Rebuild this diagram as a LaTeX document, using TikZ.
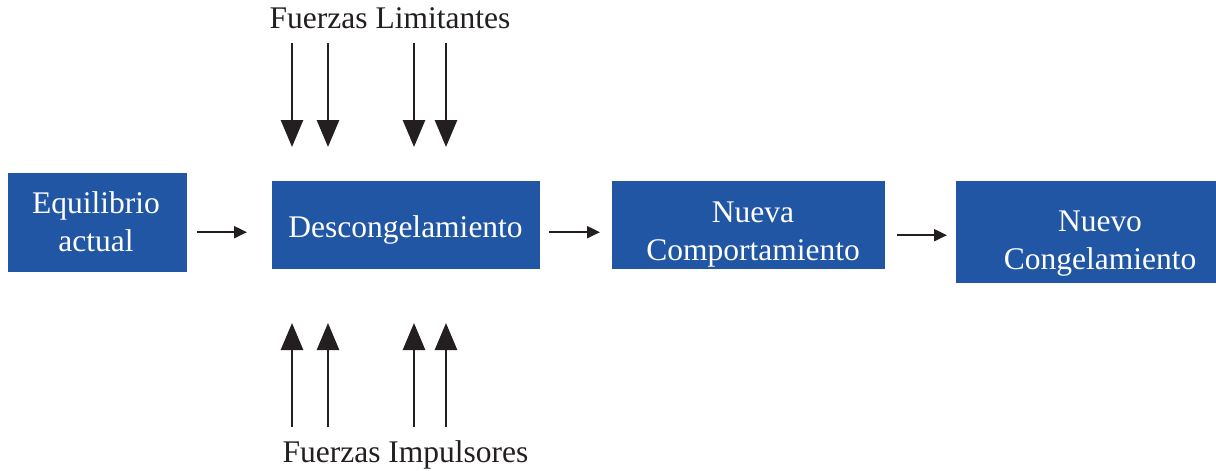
\documentclass[tikz,border=0pt]{standalone}
\usepackage{fontspec}
\setmainfont{Liberation Serif}
\usetikzlibrary{arrows.meta}
\definecolor{boxblue}{HTML}{2156A5}
\definecolor{ink}{HTML}{231F20}
\begin{document}
\begin{tikzpicture}[x=1pt,y=-1pt,
  box/.style={fill=boxblue,draw=none,inner sep=0pt,anchor=north west},
  boxtext/.style={text=white,font=\fontsize{31.5}{38}\selectfont,anchor=base,inner sep=0pt},
  labeltext/.style={text=ink,font=\fontsize{31.5}{38}\selectfont,anchor=base,inner sep=0pt},
  flow/.style={draw=ink,line width=2pt,-{Triangle[length=13pt,width=12pt]}},
  force/.style={draw=ink,line width=2.7pt,-{Triangle[length=27pt,width=22pt]}}]
\useasboundingbox (0,0) rectangle (1216,471);
% boxes
\node[box,minimum width=179pt,minimum height=99pt] (eq) at (8,173) {};
\node[box,minimum width=268pt,minimum height=88pt] (des) at (272,181) {};
\node[box,minimum width=273pt,minimum height=88pt] (nva) at (612,181) {};
\node[box,minimum width=260pt,minimum height=102pt] (nvo) at (956,181) {};
% box texts
\node[boxtext] (eq1) at (96,213) {Equilibrio};
\node[boxtext] (eq2) at (96,251) {actual};
\node[boxtext] (des1) at (405.5,237) {Descongelamiento};
\node[boxtext] (nva1) at (753,222) {Nueva};
\node[boxtext] (nva2) at (753,260) {Comportamiento};
\node[boxtext] (nvo1) at (1100,231) {Nuevo};
\node[boxtext] (nvo2) at (1100,269) {Congelamiento};
% labels
\node[labeltext] (lim) at (390,28) {Fuerzas Limitantes};
\node[labeltext] (imp) at (405.5,462) {Fuerzas Impulsores};
% flow arrows
\draw[flow,shorten <=10pt,shorten >=25pt] ([yshift=-7pt]des.west -| eq.east) -- ([yshift=-7pt]des.west);
\draw[flow,shorten <=9pt,shorten >=12pt] ([yshift=-7pt]des.east) -- ([yshift=-7pt]nva.west);
\draw[flow,shorten <=12pt,shorten >=9pt] ([yshift=-10pt]nva.east) -- ([yshift=-10pt]nva.east -| nvo.west);
% force arrows
\foreach \i/\x in {1/292,2/328,3/414,4/446}{
  \coordinate (dt\i) at (\x,43);
  \coordinate (db\i) at (\x,147);
  \coordinate (ub\i) at (\x,427);
  \coordinate (ut\i) at (\x,323);
  \draw[force] (dt\i) -- (db\i);
  \draw[force] (ub\i) -- (ut\i);
}
\end{tikzpicture}
\end{document}
